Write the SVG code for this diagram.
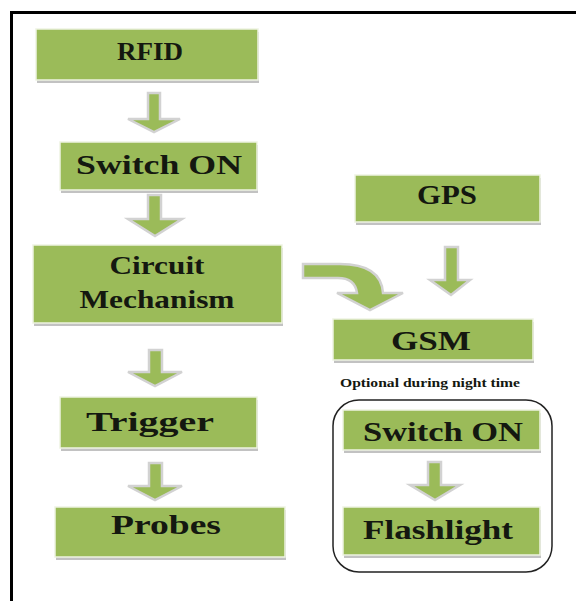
<svg xmlns="http://www.w3.org/2000/svg" width="576" height="601" viewBox="0 0 576 601">
<style>
.shadow{fill:#c2c2c2}
.box{fill:#9bbb59;stroke:#eef3e2;stroke-width:1.5}
.lbl{font-family:"Liberation Serif","Times New Roman",serif;font-weight:bold;fill:#141810;text-anchor:middle}
.arr{fill:#9bbb59;stroke:#d2d2d2;stroke-width:2.5;stroke-linejoin:miter}
.frame{stroke:#000;stroke-width:3;fill:none}
</style>
<rect width="576" height="601" fill="#fff"/>
<g id="frame">
<line class="frame" x1="10" y1="12.5" x2="576" y2="12.5"/>
<line class="frame" x1="11.5" y1="11" x2="11.5" y2="601"/>
</g>
<g id="connectors">
<path class="arr" d="M148,93 H160 V119 H180 L154,132 L128,119 H148 Z"/>
<path class="arr" d="M148,195 H161 V219 H182 L155,236 L128,219 H148 Z"/>
<path class="arr" d="M149,350 H162 V372 H182 L155,386 L128,372 H149 Z"/>
<path class="arr" d="M149,463 H162 V486 H182 L155,500 L128,486 H149 Z"/>
<path class="arr" d="M445,247 H458 V280 H470 L451,295 L430,280 H445 Z"/>
<path class="arr" d="M428,462 H441 V485 H460 L435,500 L410,485 H428 Z"/>
<path class="arr" d="M303,264 H340 Q381,264 383,293 H403 L370,310 L337,293 H357 Q355,278 338,278 H303 Z"/>
</g>
<g id="rfid">
<rect class="shadow" x="37" y="32" width="222" height="51"/>
<rect class="box" x="36" y="29" width="222" height="51"/>
<text class="lbl" x="150" y="60" font-size="26" textLength="66" lengthAdjust="spacingAndGlyphs">RFID</text>
</g>
<g id="switch-on-1">
<rect class="shadow" x="61" y="145" width="197" height="48"/>
<rect class="box" x="60" y="142" width="197" height="48"/>
<text class="lbl" x="159" y="174" font-size="27" textLength="166" lengthAdjust="spacingAndGlyphs">Switch ON</text>
</g>
<g id="circuit-mechanism">
<rect class="shadow" x="34" y="248" width="249" height="78"/>
<rect class="box" x="33" y="245" width="249" height="78"/>
<text class="lbl" x="157" y="274" font-size="25" textLength="95" lengthAdjust="spacingAndGlyphs">Circuit</text>
<text class="lbl" x="157" y="308" font-size="25" textLength="155" lengthAdjust="spacingAndGlyphs">Mechanism</text>
</g>
<g id="trigger">
<rect class="shadow" x="61" y="400" width="197" height="51"/>
<rect class="box" x="60" y="397" width="197" height="51"/>
<text class="lbl" x="150" y="431" font-size="28" textLength="128" lengthAdjust="spacingAndGlyphs">Trigger</text>
</g>
<g id="probes">
<rect class="shadow" x="56" y="510" width="230" height="50"/>
<rect class="box" x="55" y="507" width="230" height="50"/>
<text class="lbl" x="166" y="534" font-size="28" textLength="110" lengthAdjust="spacingAndGlyphs">Probes</text>
</g>
<g id="gps">
<rect class="shadow" x="356" y="178" width="185" height="47"/>
<rect class="box" x="355" y="175" width="185" height="47"/>
<text class="lbl" x="447" y="204" font-size="27" textLength="60" lengthAdjust="spacingAndGlyphs">GPS</text>
</g>
<g id="gsm">
<rect class="shadow" x="334" y="322" width="200" height="41"/>
<rect class="box" x="333" y="319" width="200" height="41"/>
<text class="lbl" x="431" y="350" font-size="28" textLength="80" lengthAdjust="spacingAndGlyphs">GSM</text>
</g>
<g id="note">
<text class="lbl" x="430" y="387" font-size="12.5" textLength="180" lengthAdjust="spacingAndGlyphs">Optional during night time</text>
</g>
<g id="optional-group">
<rect x="333" y="400" width="219" height="172" rx="26" ry="26" fill="none" stroke="#222" stroke-width="1.5"/>
</g>
<g id="switch-on-2">
<rect class="shadow" x="344" y="413" width="197" height="40"/>
<rect class="box" x="343" y="410" width="197" height="40"/>
<text class="lbl" x="443" y="441" font-size="27" textLength="160" lengthAdjust="spacingAndGlyphs">Switch ON</text>
</g>
<g id="flashlight">
<rect class="shadow" x="344" y="510" width="197" height="48"/>
<rect class="box" x="343" y="507" width="197" height="48"/>
<text class="lbl" x="438" y="539" font-size="27" textLength="150" lengthAdjust="spacingAndGlyphs">Flashlight</text>
</g>
</svg>
